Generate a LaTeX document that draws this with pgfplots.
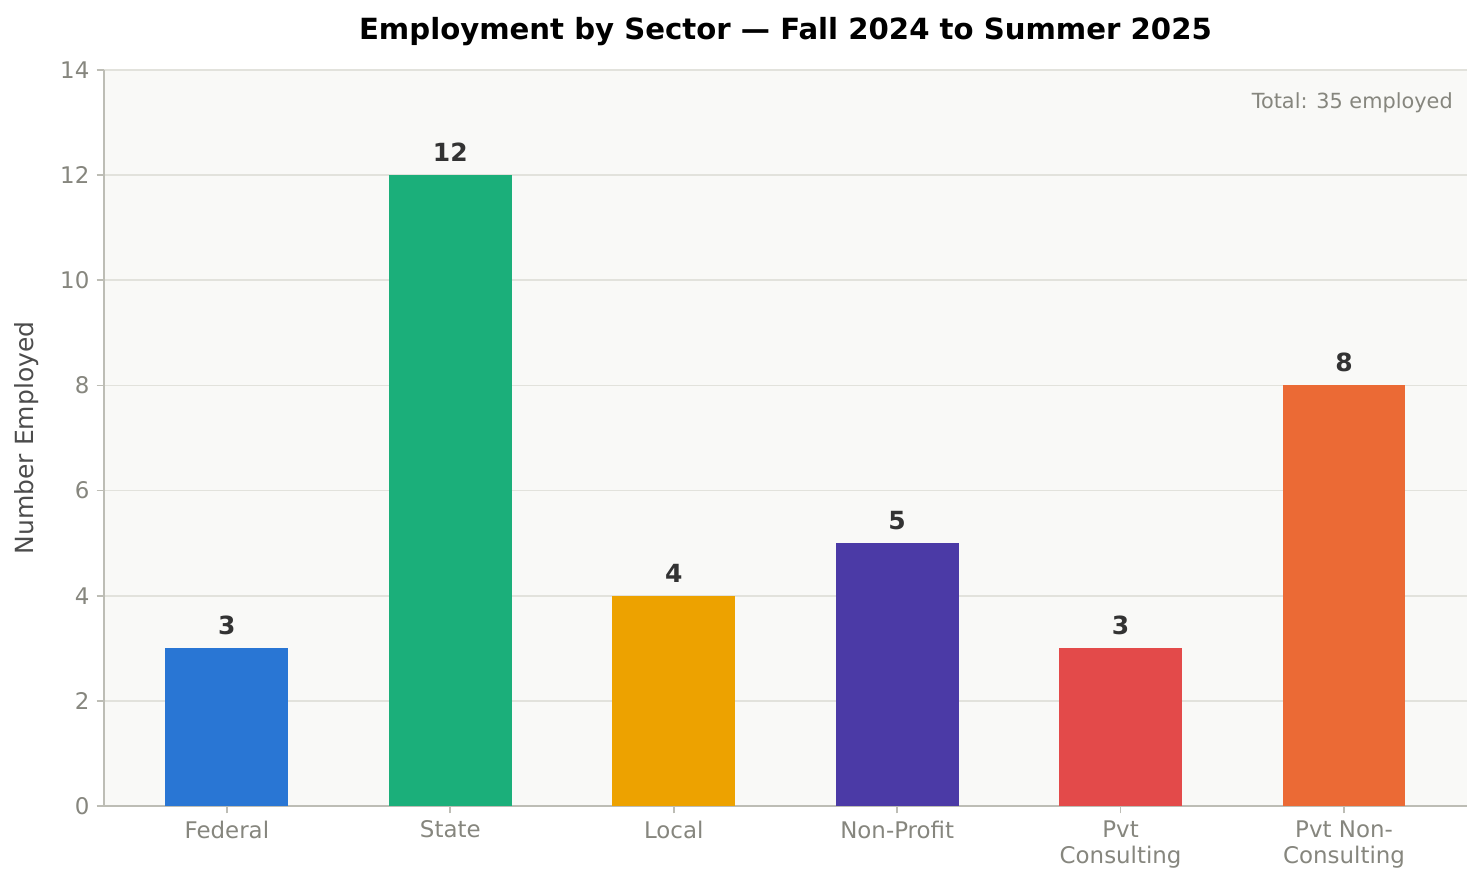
\documentclass[border=0pt]{standalone}
\usepackage{fontspec}
\setmainfont{DejaVu Sans}
\usepackage{pgfplots}
\pgfplotsset{compat=1.18}
\definecolor{cfed}{HTML}{2976D4}
\definecolor{cstate}{HTML}{1BAF7A}
\definecolor{clocal}{HTML}{EDA200}
\definecolor{cnp}{HTML}{4B3AA6}
\definecolor{cpc}{HTML}{E34A4A}
\definecolor{cpnc}{HTML}{EB6A35}
\definecolor{cbg}{HTML}{F9F9F7}
\definecolor{cgrid}{HTML}{E2E2DC}
\definecolor{cspine}{HTML}{BDBDB5}
\definecolor{ctick}{HTML}{86867E}
\definecolor{clab}{HTML}{333333}
\begin{document}
\begin{tikzpicture}
\useasboundingbox (-49.92pt,-37.92pt) rectangle (661.44pt,386.88pt);
\begin{axis}[
  at={(0pt,0pt)}, anchor=south west,
  scale only axis,
  width=654.2pt, height=353.3pt,
  xmin=-0.55, xmax=5.55,
  ymin=0, ymax=14,
  ytick={0,2,...,14},
  xtick={0,1,2,3,4,5},
  xticklabels={Federal,State,Local,Non-Profit,{Pvt\\Consulting},{Pvt Non-\\Consulting}},
  xticklabel style={align=center, font=\fontsize{11}{12.5}\selectfont, text=ctick},
  yticklabel style={font=\fontsize{11}{13}\selectfont, text=ctick},
  /pgf/number format/assume math mode=true,
  tick align=outside,
  major tick length=3.5pt,
  tick style={cspine, line width=0.8pt},
  axis lines*=left,
  axis line style={cspine, line width=0.8pt, -},
  axis background/.style={fill=cbg},
  ymajorgrids,
  grid style={cgrid, line width=0.8pt},
  ylabel={Number Employed},
  ylabel style={font=\fontsize{12}{14}\selectfont, text=black!70, at={(axis description cs:0,0.5)}, anchor=south, yshift=28pt},
  title={\textbf{Employment by Sector — Fall 2024 to Summer 2025}},
  title style={font=\fontsize{14}{16}\selectfont, at={(axis description cs:0.5,1)}, anchor=south, yshift=2pt},
  clip=false,
  nodes near coords,
  every node near coord/.append style={font=\bfseries\fontsize{12}{14}\selectfont, text=clab, yshift=3pt},
]
\addplot[ybar, bar width=0.55, fill=cfed, draw=none] coordinates {(0,3)};
\addplot[ybar, bar width=0.55, fill=cstate, draw=none] coordinates {(1,12)};
\addplot[ybar, bar width=0.55, fill=clocal, draw=none] coordinates {(2,4)};
\addplot[ybar, bar width=0.55, fill=cnp, draw=none] coordinates {(3,5)};
\addplot[ybar, bar width=0.55, fill=cpc, draw=none] coordinates {(4,3)};
\addplot[ybar, bar width=0.55, fill=cpnc, draw=none] coordinates {(5,8)};
\node[anchor=east, font=\fontsize{10}{12}\selectfont, text=ctick] at (axis description cs:0.995,0.955) {Total: 35 employed};
\end{axis}
\end{tikzpicture}
\end{document}
